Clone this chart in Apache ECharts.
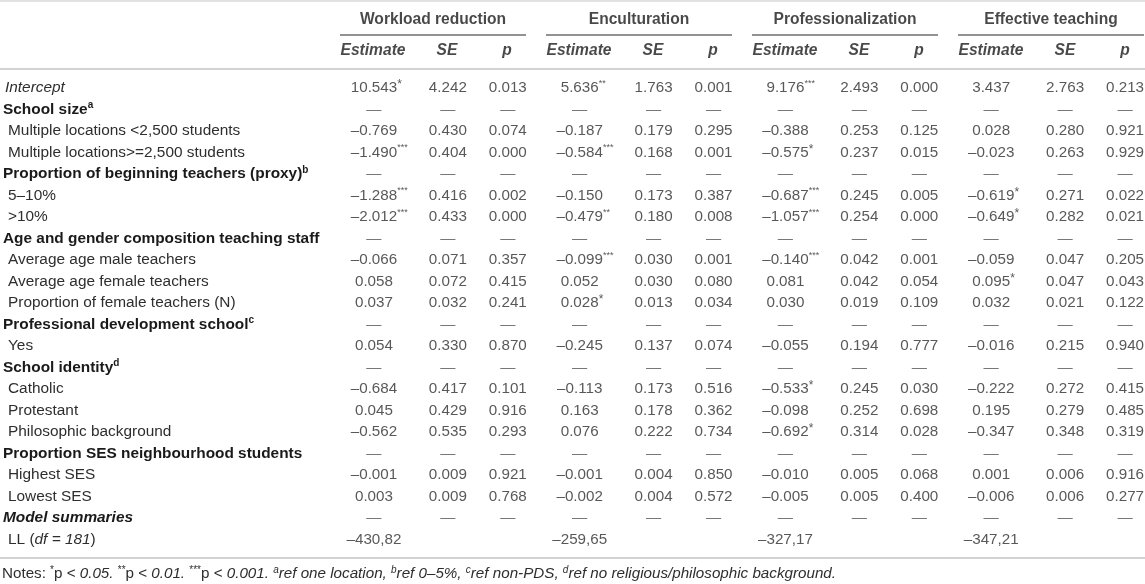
<!DOCTYPE html>
<html><head><meta charset="utf-8">
<script src="https://cdn.jsdelivr.net/npm/echarts@6/dist/echarts.min.js"></script>
<style>html,body{margin:0;padding:0;background:#fff}#c{width:1145px;height:584px}</style>
</head><body><div id="c"></div>
<script>
// ---------- DATA ----------
const rowLabels = [
  'Intercept', 'School size', 'Multiple locations <2,500 students', 'Multiple locations>=2,500 students',
  'Proportion of beginning teachers (proxy)', '5–10%', '>10%',
  'Age and gender composition teaching staff', 'Average age male teachers', 'Average age female teachers',
  'Proportion of female teachers (N)', 'Professional development school', 'Yes',
  'School identity', 'Catholic', 'Protestant', 'Philosophic background',
  'Proportion SES neighbourhood students', 'Highest SES', 'Lowest SES',
  'Model summaries', 'LL (df = 181)'
];
const rowKinds = ['intercept','group','item','item','group','item','item','group','item','item','item',
  'group','item','group','item','item','item','group','item','item','summary','ll'];
const rowSups = ['','a','','','b','','','','','','','c','','d','','','','','','','',''];
const models = ['Workload reduction', 'Enculturation', 'Professionalization', 'Effective teaching'];
const statCols = ['Estimate', 'SE', 'p'];

const wrEst   = [10.543,null,-0.769,-1.490,null,-1.288,-2.012,null,-0.066,0.058,0.037,null,0.054,null,-0.684,0.045,-0.562,null,-0.001,0.003,null,-430.82];
const wrStars = [1,0,0,3,0,3,3,0,0,0,0,0,0,0,0,0,0,0,0,0,0,0];
const wrSE    = [4.242,null,0.430,0.404,null,0.416,0.433,null,0.071,0.072,0.032,null,0.330,null,0.417,0.429,0.535,null,0.009,0.009,null,null];
const wrP     = [0.013,null,0.074,0.000,null,0.002,0.000,null,0.357,0.415,0.241,null,0.870,null,0.101,0.916,0.293,null,0.921,0.768,null,null];

const encEst   = [5.636,null,-0.187,-0.584,null,-0.150,-0.479,null,-0.099,0.052,0.028,null,-0.245,null,-0.113,0.163,0.076,null,-0.001,-0.002,null,-259.65];
const encStars = [2,0,0,3,0,0,2,0,3,0,1,0,0,0,0,0,0,0,0,0,0,0];
const encSE    = [1.763,null,0.179,0.168,null,0.173,0.180,null,0.030,0.030,0.013,null,0.137,null,0.173,0.178,0.222,null,0.004,0.004,null,null];
const encP     = [0.001,null,0.295,0.001,null,0.387,0.008,null,0.001,0.080,0.034,null,0.074,null,0.516,0.362,0.734,null,0.850,0.572,null,null];

const proEst   = [9.176,null,-0.388,-0.575,null,-0.687,-1.057,null,-0.140,0.081,0.030,null,-0.055,null,-0.533,-0.098,-0.692,null,-0.010,-0.005,null,-327.17];
const proStars = [3,0,0,1,0,3,3,0,3,0,0,0,0,0,1,0,1,0,0,0,0,0];
const proSE    = [2.493,null,0.253,0.237,null,0.245,0.254,null,0.042,0.042,0.019,null,0.194,null,0.245,0.252,0.314,null,0.005,0.005,null,null];
const proP     = [0.000,null,0.125,0.015,null,0.005,0.000,null,0.001,0.054,0.109,null,0.777,null,0.030,0.698,0.028,null,0.068,0.400,null,null];

const effEst   = [3.437,null,0.028,-0.023,null,-0.619,-0.649,null,-0.059,0.095,0.032,null,-0.016,null,-0.222,0.195,-0.347,null,0.001,-0.006,null,-347.21];
const effStars = [0,0,0,0,0,1,1,0,0,1,0,0,0,0,0,0,0,0,0,0,0,0];
const effSE    = [2.763,null,0.280,0.263,null,0.271,0.282,null,0.047,0.047,0.021,null,0.215,null,0.272,0.279,0.348,null,0.006,0.006,null,null];
const effP     = [0.213,null,0.921,0.929,null,0.022,0.021,null,0.205,0.043,0.122,null,0.940,null,0.415,0.485,0.319,null,0.916,0.277,null,null];

// ---------- LAYOUT / STYLE ----------
const FONT = '"Liberation Sans", Arial, Helvetica, sans-serif';
const TXT = '#2e2e2e', BOLD = '#1a1a1a';
const L = { left: 340, groupStep: 206, colOffset: [33, 107, 167], groupWidth: 186,
            rowTop: 77.25, rowH: 21.5, headTop: 4, headH: 62, width: 805 };
const FS = 15.4;
const NFS = 15.2;

const modelData = [
  [wrEst, wrSE, wrP, wrStars],
  [encEst, encSE, encP, encStars],
  [proEst, proSE, proP, proStars],
  [effEst, effSE, effP, effStars]
];

function fmt(v, i) {
  let s = rowKinds[i] === 'll' ? v.toFixed(2).replace('.', ',') : v.toFixed(3);
  return s.replace('-', '–');
}
function cellText(v, i, stars) {
  if (v == null) return (rowKinds[i] === 'group' || rowKinds[i] === 'summary') ? '{d|—}' : '';
  const s = fmt(v, i);
  if (stars) {
    const st = '*'.repeat(stars);
    const t = stars === 1 ? 's1' : 's';
    return '{' + t + 'h|' + st + '}{v|' + s + '}{' + t + '|' + st + '}';
  }
  return '{v|' + s + '}';
}

const cellRich = {
  v: { fontFamily: FONT, fontSize: NFS, color: TXT, lineHeight: 18 },
  d: { fontFamily: FONT, fontSize: NFS, color: '#555', lineHeight: 18 },
  s: { fontFamily: FONT, fontSize: 9, color: TXT, verticalAlign: 'top', lineHeight: 9 },
  sh: { fontFamily: FONT, fontSize: 9, color: 'rgba(0,0,0,0)', verticalAlign: 'top', lineHeight: 9 },
  s1: { fontFamily: FONT, fontSize: 12, color: TXT, verticalAlign: 'top', lineHeight: 12 },
  s1h: { fontFamily: FONT, fontSize: 12, color: 'rgba(0,0,0,0)', verticalAlign: 'top', lineHeight: 12 }
};

const series = [];
modelData.forEach((md, g) => {
  for (let c = 0; c < 3; c++) {
    const arr = md[c];
    const data = [];
    arr.forEach((v, i) => {
      const txt = cellText(v, i, c === 0 ? md[3][i] : 0);
      if (txt) data.push({ value: [g * L.groupStep + L.colOffset[c], i], txt: txt });
    });
    series.push({
      type: 'scatter', xAxisIndex: 0, yAxisIndex: 0, silent: true,
      symbolSize: 1, itemStyle: { color: 'rgba(0,0,0,0)' },
      label: { show: true, position: 'inside', formatter: p => p.data.txt, rich: cellRich },
      data: data
    });
  }
});

// header: model names (row 0) and stat names (row 1)
const headData = [];
models.forEach((m, g) => {
  headData.push({ value: [g * L.groupStep + L.groupWidth / 2, 0], txt: '{h|' + m + '}' });
  statCols.forEach((s, c) => {
    headData.push({ value: [g * L.groupStep + L.colOffset[c], 1], txt: '{hi|' + s + '}' });
  });
});
series.push({
  type: 'scatter', xAxisIndex: 1, yAxisIndex: 1, silent: true,
  symbolSize: 1, itemStyle: { color: 'rgba(0,0,0,0)' },
  label: { show: true, position: 'inside', formatter: p => p.data.txt, rich: {
    h: { fontFamily: FONT, fontSize: 15.6, fontWeight: 'bold', color: BOLD },
    hi: { fontFamily: FONT, fontSize: 15.6, fontWeight: 'bold', fontStyle: 'italic', color: BOLD }
  } },
  data: headData
});
// group underlines
series.push({
  type: 'custom', xAxisIndex: 1, yAxisIndex: 1, silent: true,
  data: models.map((m, g) => [g * L.groupStep, 0]),
  renderItem: (params, api) => {
    const x0 = api.value(0);
    const a = api.coord([x0, 0]);
    const b = api.coord([x0 + L.groupWidth, 0]);
    const band = api.size([0, 1])[1];
    const y = a[1] + band / 2;
    return { type: 'line', shape: { x1: a[0], y1: y, x2: b[0], y2: y },
             style: { stroke: '#6e6e6e', lineWidth: 1.5 } };
  }
});

function rowLabelFmt(val, idx) {
  const k = rowKinds[idx];
  const sup = rowSups[idx] ? '{sup|' + rowSups[idx] + '}' : '';
  if (k === 'group') return '{g|' + val + '}' + sup;
  if (k === 'summary') return '{gi|' + val + '}';
  if (k === 'intercept') return '{it|' + val + '}';
  if (k === 'll') {
    const m = val.match(/^(.*\()(.*)(\))$/);
    return '{n|' + m[1] + '}{ni|' + m[2] + '}{nn|' + m[3] + '}';
  }
  return '{n|' + val + '}';
}

const option = {
  animation: false,
  backgroundColor: '#ffffff',
  title: {
    left: 2, top: 565, padding: 0,
    text: '{t|Notes: }{st|*}{t|p < }{ti|0.05. }{st|**}{t|p < }{ti|0.01. }{st|***}{t|p < }{ti|0.001. }' +
          '{su|a}{ti|ref one location, }{su|b}{ti|ref 0–5%, }{su|c}{ti|ref non-PDS, }{su|d}{ti|ref no religious/philosophic background.}',
    textStyle: { fontWeight: 'normal', rich: {
      t: { fontFamily: FONT, fontSize: 15.2, fontWeight: 'normal', color: TXT, lineHeight: 17 },
      ti: { fontFamily: FONT, fontSize: 15.2, fontWeight: 'normal', fontStyle: 'italic', color: TXT, lineHeight: 17 },
      st: { fontFamily: FONT, fontSize: 10, fontWeight: 'normal', color: TXT, verticalAlign: 'top', lineHeight: 10 },
      su: { fontFamily: FONT, fontSize: 10, fontWeight: 'normal', fontStyle: 'italic', color: TXT, verticalAlign: 'top', lineHeight: 10 }
    } }
  },
  grid: [
    { left: L.left, top: L.rowTop, width: L.width, height: L.rowH * rowLabels.length, containLabel: false },
    { left: L.left, top: L.headTop, width: L.width, height: L.headH, containLabel: false }
  ],
  xAxis: [
    { type: 'value', gridIndex: 0, min: 0, max: L.width, show: false },
    { type: 'value', gridIndex: 1, min: 0, max: L.width, show: false }
  ],
  yAxis: [
    { type: 'category', gridIndex: 0, data: rowLabels, inverse: true,
      axisLine: { show: false }, axisTick: { show: false }, splitLine: { show: false },
      axisLabel: { interval: 0, align: 'left', margin: L.left - 2, formatter: rowLabelFmt, rich: {
        g: { fontFamily: FONT, fontSize: FS, fontWeight: 'bold', color: BOLD, lineHeight: 18 },
        gi: { fontFamily: FONT, fontSize: FS, fontWeight: 'bold', fontStyle: 'italic', color: BOLD, lineHeight: 18 },
        sup: { fontFamily: FONT, fontSize: 10, fontWeight: 'bold', color: BOLD, verticalAlign: 'top', lineHeight: 10 },
        it: { fontFamily: FONT, fontSize: FS, fontStyle: 'italic', color: TXT, padding: [0, 0, 0, 2], lineHeight: 18 },
        n: { fontFamily: FONT, fontSize: FS, color: TXT, padding: [0, 0, 0, 5], lineHeight: 18 },
        ni: { fontFamily: FONT, fontSize: FS, fontStyle: 'italic', color: TXT, lineHeight: 18 },
        nn: { fontFamily: FONT, fontSize: FS, color: TXT, lineHeight: 18 }
      } } },
    { type: 'category', gridIndex: 1, data: ['group', 'stat'], inverse: true, show: false }
  ],
  graphic: [
    { type: 'line', shape: { x1: 0, y1: 1, x2: 1145, y2: 1 }, style: { stroke: '#d9d9d9', lineWidth: 1.5 }, silent: true },
    { type: 'line', shape: { x1: 0, y1: 69, x2: 1145, y2: 69 }, style: { stroke: '#d2d2d2', lineWidth: 2 }, silent: true },
    { type: 'line', shape: { x1: 0, y1: 558, x2: 1145, y2: 558 }, style: { stroke: '#d2d2d2', lineWidth: 2 }, silent: true }
  ],
  series: series
};
echarts.init(document.getElementById('c')).setOption(option);
</script>
</body></html>
